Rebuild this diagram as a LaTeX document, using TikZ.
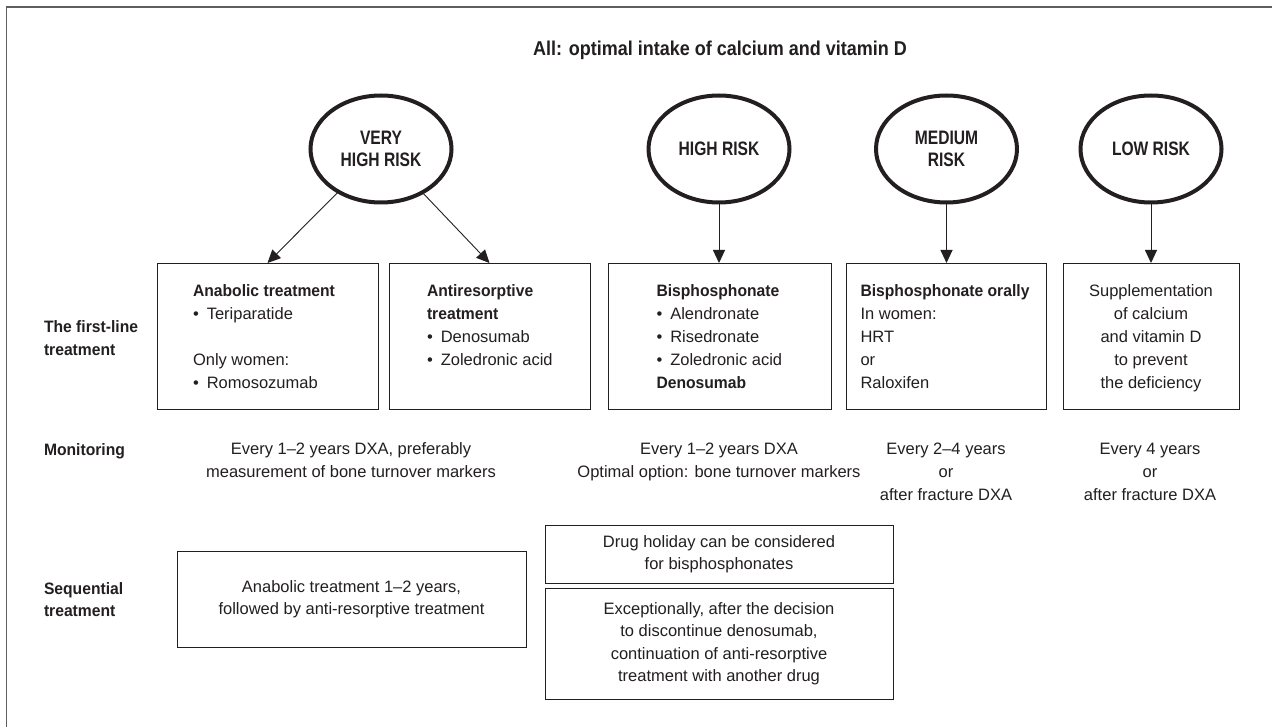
\documentclass[tikz,border=0pt]{standalone}
\usepackage{fontspec}
\setmainfont{Liberation Sans}[BoldFeatures={FakeStretch=0.95}]
\newfontfamily\circfont{Liberation Sans}[FakeStretch=0.8]
\newfontfamily\titlefont{Liberation Sans}[FakeStretch=0.9]
\usetikzlibrary{shapes.geometric,arrows.meta,calc}
\definecolor{ink}{HTML}{231F20}
\definecolor{framegray}{HTML}{5E5E5E}
\begin{document}
\begin{tikzpicture}[x=1pt,y=-1pt,
  every node/.style={text=ink, inner sep=0pt, outer sep=0pt},
  risk/.style={ellipse, draw=ink, line width=4pt, minimum width=141pt, minimum height=107pt,
    align=center, font=\fontsize{19.5}{22}\circfont\bfseries},
  box/.style={draw=ink, line width=0.9pt},
  arr/.style={draw=ink, line width=0.9pt, -{Triangle[length=13pt,width=12pt]}},
  body/.style={font=\fontsize{16.5}{23}\selectfont},
  lab/.style={font=\fontsize{16.5}{22.5}\selectfont\bfseries, anchor=base west},
  seqbox/.style={draw=ink, line width=0.9pt, align=center, font=\fontsize{16.5}{22.5}\selectfont}
]
\useasboundingbox (0,0) rectangle (1272,727);
\fill[white] (0,0) rectangle (1272,727);
\coordinate (fbl) at (6.5,760);
\coordinate (ftl) at (6.5,7.3);
\coordinate (ftr) at (1300,7.3);
\draw[framegray, line width=1.8pt] (fbl) -- (ftl) -- (ftr);

% title
\node[anchor=base, font=\fontsize{20}{24}\titlefont\bfseries] (title) at (720,56)
  {All: optimal intake of calcium and vitamin D};

% risk ellipses
\node[risk] (vhr) at (381,149) {VERY\\HIGH RISK};
\node[risk] (hr) at (719,149) {HIGH RISK};
\node[risk] (mr) at (946.5,149) {MEDIUM\\RISK};
\node[risk] (lr) at (1151,149) {LOW RISK};

% first-line boxes
\node[box, minimum width=221pt, minimum height=146pt] (b1) at (267.5,336) {};
\node[box, minimum width=201pt, minimum height=146pt] (b2) at (489.5,336) {};
\node[box, minimum width=223pt, minimum height=146pt] (b3) at (719.5,336) {};
\node[box, minimum width=200.5pt, minimum height=146pt] (b4) at (946.3,336) {};
\node[box, minimum width=176pt, minimum height=146pt] (b5) at (1151,336) {};

\node[body, anchor=base west] (t1) at (193,297) {\parbox[t]{180pt}{\raggedright
  \textbf{Anabolic treatment}\\
  •\hspace{8pt}Teriparatide\\[23pt]
  Only women:\\
  •\hspace{8pt}Romosozumab}};
\node[body, anchor=base west] (t2) at (427,297) {\parbox[t]{160pt}{\raggedright
  \textbf{Antiresorptive}\\
  \textbf{treatment}\\
  •\hspace{8pt}Denosumab\\
  •\hspace{8pt}Zoledronic acid}};
\node[body, anchor=base west] (t3) at (656.5,297) {\parbox[t]{170pt}{\raggedright
  \textbf{Bisphosphonate}\\
  •\hspace{8pt}Alendronate\\
  •\hspace{8pt}Risedronate\\
  •\hspace{8pt}Zoledronic acid\\
  \textbf{Denosumab}}};
\node[body, anchor=base west] (t4) at (860.5,297) {\parbox[t]{180pt}{\raggedright
  \textbf{Bisphosphonate orally}\\
  In women:\\
  HRT\\
  or\\
  Raloxifen}};
\node[body, anchor=base] (t5) at (1151,297) {\parbox[t]{170pt}{\centering
  Supplementation\\
  of calcium\\
  and vitamin D\\
  to prevent\\
  the deficiency}};

% arrows
\draw[arr] (vhr) -- (b1.north);
\draw[arr] (vhr) -- (b2.north);
\draw[arr] (hr.south) -- (hr.south |- b3.north);
\draw[arr] (mr.south) -- (mr.south |- b4.north);
\draw[arr] (lr.south) -- (lr.south |- b5.north);

% row labels
\node[lab] (l1) at (44,333) {\parbox[t]{130pt}{\raggedright The first-line\\treatment}};
\node[lab] (l2) at (44,455) {Monitoring};
\node[lab] (l3) at (44,594) {\parbox[t]{130pt}{\raggedright Sequential\\treatment}};

% monitoring
\node[body, anchor=base] (m1) at (351,454) {\parbox[t]{320pt}{\centering
  Every 1–2 years DXA, preferably\\measurement of bone turnover markers}};
\node[body, anchor=base] (m2) at (719,454) {\parbox[t]{320pt}{\centering
  Every 1–2 years DXA\\Optimal option: bone turnover markers}};
\node[body, anchor=base] (m3) at (946,454) {\parbox[t]{180pt}{\centering
  Every 2–4 years\\or\\after fracture DXA}};
\node[body, anchor=base] (m4) at (1150,454) {\parbox[t]{180pt}{\centering
  Every 4 years\\or\\after fracture DXA}};

% sequential
\node[seqbox, minimum width=349pt, minimum height=96pt] (s1) at (351.5,599)
  {Anabolic treatment 1–2 years,\\followed by anti-resorptive treatment};
\node[seqbox, minimum width=348pt, minimum height=58pt] (s2) at (719,554)
  {Drug holiday can be considered\\for bisphosphonates};
\node[seqbox, minimum width=348pt, minimum height=111pt] (s3) at (719,643.5)
  {Exceptionally, after the decision\\to discontinue denosumab,\\continuation of anti-resorptive\\treatment with another drug};
\end{tikzpicture}
\end{document}
